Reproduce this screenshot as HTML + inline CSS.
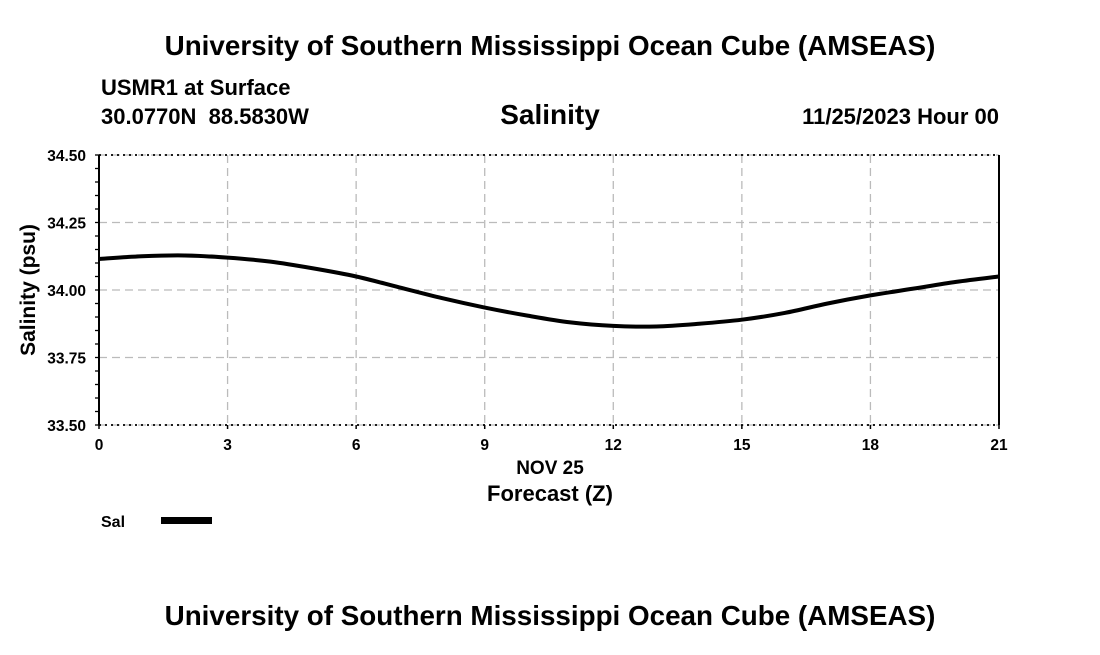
<!DOCTYPE html>
<html><head><meta charset="utf-8"><style>
body{margin:0;background:#fff;font-family:"Liberation Sans",sans-serif;}
svg text{font-family:"Liberation Sans",sans-serif;font-weight:bold;fill:#000;}
</style></head><body>
<svg id="chart" width="1100" height="650" xmlns="http://www.w3.org/2000/svg">
<text x="550" y="55" font-size="27.8" text-anchor="middle">University of Southern Mississippi Ocean Cube (AMSEAS)</text>
<text x="101" y="95" font-size="22">USMR1 at Surface</text>
<text x="101" y="124" font-size="22" xml:space="preserve">30.0770N  88.5830W</text>
<text x="550" y="124" font-size="28" text-anchor="middle">Salinity</text>
<text x="999" y="124" font-size="22" text-anchor="end">11/25/2023 Hour 00</text>
<g id="grid"></g>
<g id="axes"></g>
<path id="line" fill="none" stroke="#000" stroke-width="4"/>
<text transform="translate(35,290) rotate(-90)" font-size="21" text-anchor="middle">Salinity (psu)</text>
<text x="550" y="474" font-size="19" text-anchor="middle">NOV 25</text>
<text x="550" y="501" font-size="22" text-anchor="middle">Forecast (Z)</text>
<text x="101" y="527" font-size="16">Sal</text>
<rect x="161" y="517" width="51" height="7" fill="#000"/>
<text x="550" y="625" font-size="27.8" text-anchor="middle">University of Southern Mississippi Ocean Cube (AMSEAS)</text>
</svg>
<script>
const hours=[0,1,2,3,4,5,6,7,8,9,10,11,12,13,14,15,16,17,18,19,20,21];
const salinity=[34.115,34.125,34.128,34.12,34.105,34.08,34.05,34.01,33.97,33.935,33.905,33.88,33.867,33.865,33.875,33.89,33.915,33.95,33.98,34.005,34.03,34.05];
const xTicks=[0,3,6,9,12,15,18,21];
const yTicks=[33.5,33.75,34.0,34.25,34.5];
const X0=99,X1=999,Y0=425,Y1=155;
const xs=h=>X0+(h-0)/21*(X1-X0);
const ys=v=>Y0-(v-33.5)/1.0*(Y0-Y1);
const NS="http://www.w3.org/2000/svg";
function mk(t,a,p){const e=document.createElementNS(NS,t);for(const k in a)e.setAttribute(k,a[k]);p.appendChild(e);return e;}
const grid=document.getElementById('grid'),axes=document.getElementById('axes');
xTicks.forEach(t=>{
 const g=mk('line',{x1:xs(t),x2:xs(t),y1:Y1,y2:Y0,stroke:'#bbb','stroke-width':1.3,'stroke-dasharray':'8,5'},grid);
 
 
 const tk=mk('line',{x1:xs(t),x2:xs(t),y1:Y0,y2:Y0+4,stroke:'#000','stroke-width':1.5},axes);
 
 
 const tx=mk('text',{x:xs(t),y:Y0+25,'font-size':15.5,'text-anchor':'middle'},axes);tx.textContent=t;
 
 
});
yTicks.forEach(t=>{
 const g=mk('line',{x1:X0,x2:X1,y1:ys(t),y2:ys(t),stroke:'#bbb','stroke-width':1.3,'stroke-dasharray':'8,5'},grid);
 
 
 const tx=mk('text',{x:X0-13,y:ys(t)+6,'font-size':15.5,'text-anchor':'end'},axes);tx.textContent=t.toFixed(2);
 
 
});
for(let v=33.5;v<=34.5001;v+=0.05){
 const tk=mk('line',{x1:X0-4,x2:X0,y1:ys(v),y2:ys(v),stroke:'#000','stroke-width':1.3},axes);
 
 
}
[[X0,Y1,X1,Y1],[X0,Y0,X1,Y0]].forEach(c=>{
 const l=mk('line',{x1:c[0],y1:c[1],x2:c[2],y2:c[3],stroke:'#000','stroke-width':1.8,'stroke-dasharray':'2,4'},axes);
 
 
});
[[X0,Y1,X0,Y0],[X1,Y1,X1,Y0]].forEach(c=>{
 const l=mk('line',{x1:c[0],y1:c[1],x2:c[2],y2:c[3],stroke:'#000','stroke-width':2},axes);
 
 
});
const P=hours.map((h,i)=>[xs(h),ys(salinity[i])]);
let d='M'+P[0][0]+','+P[0][1];
for(let i=0;i<P.length-1;i++){
 const p0=P[Math.max(0,i-1)],p1=P[i],p2=P[i+1],p3=P[Math.min(P.length-1,i+2)];
 d+=` C${p1[0]+(p2[0]-p0[0])/6},${p1[1]+(p2[1]-p0[1])/6} ${p2[0]-(p3[0]-p1[0])/6},${p2[1]-(p3[1]-p1[1])/6} ${p2[0]},${p2[1]}`;
}
document.getElementById('line').setAttribute('d',d);
</script>
</body></html>
